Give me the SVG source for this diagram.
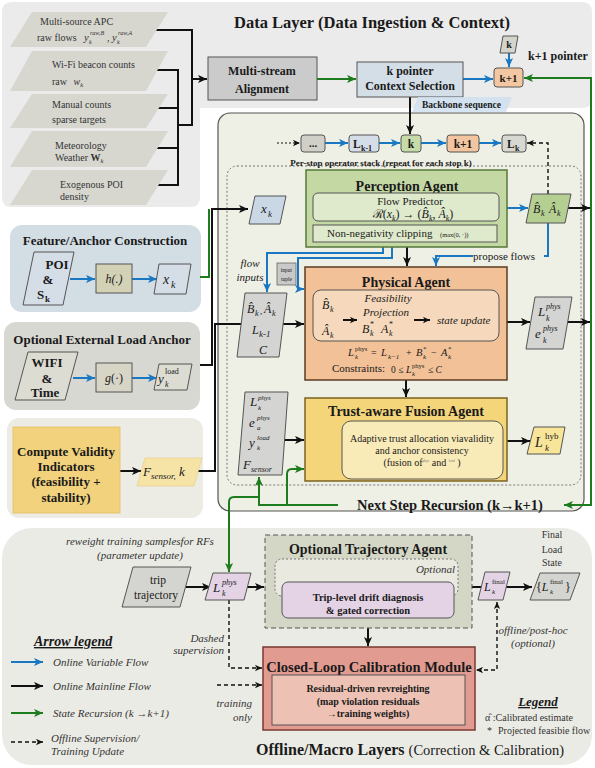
<svg xmlns="http://www.w3.org/2000/svg" width="595" height="768" viewBox="0 0 595 768">
<defs>
<style>
text{font-family:"Liberation Serif","Times New Roman",serif;fill:#1a1a1a}
.b{font-weight:bold}
.i{font-style:italic}
.c{text-anchor:middle}
.e{text-anchor:end}
.u{text-decoration:underline}
.g3{fill:#333}
.k{fill:none;stroke:#111;stroke-width:2}
.bl{fill:none;stroke:#1a78c2;stroke-width:2}
.gr{fill:none;stroke:#1e7b1e;stroke-width:2}
.ds{fill:none;stroke:#111;stroke-width:1.4;stroke-dasharray:4 3}
.dt{fill:none;stroke:#111;stroke-width:1;stroke-dasharray:2 2}
.nd{stroke:#555;stroke-width:1}
.src{fill:#d7d7d0}
</style>
<marker id="mk" viewBox="0 0 10 10" refX="10" refY="5" markerWidth="9" markerHeight="9" markerUnits="userSpaceOnUse" orient="auto-start-reverse"><path d="M0,0.5 L10,5 L0,9.5 L2.5,5 Z" fill="#111"/></marker>
<marker id="mb" viewBox="0 0 10 10" refX="10" refY="5" markerWidth="9" markerHeight="9" markerUnits="userSpaceOnUse" orient="auto-start-reverse"><path d="M0,0.5 L10,5 L0,9.5 L2.5,5 Z" fill="#1a78c2"/></marker>
<marker id="mg" viewBox="0 0 10 10" refX="10" refY="5" markerWidth="9" markerHeight="9" markerUnits="userSpaceOnUse" orient="auto-start-reverse"><path d="M0,0.5 L10,5 L0,9.5 L2.5,5 Z" fill="#1e7b1e"/></marker>
<marker id="md" viewBox="0 0 10 10" refX="10" refY="5" markerWidth="7" markerHeight="7" markerUnits="userSpaceOnUse" orient="auto-start-reverse"><path d="M0,0.5 L10,5 L0,9.5 L2.5,5 Z" fill="#111"/></marker>
</defs>

<!-- Panels -->
<g id="panel-data">
<path d="M12,2 H582 Q592,2 592,12 V98 Q592,108 582,108 H200 V197 Q200,207 190,207 H12 Q2,207 2,197 V12 Q2,2 12,2 Z" fill="#ebebeb"/>
<text x="372" y="28" font-size="16.5" class="b c">Data Layer (Data Ingestion &amp; Context)</text>
</g>
<g id="panel-online">
<rect x="218" y="113" width="366" height="398" rx="12" fill="#eeefe5" stroke="#555" stroke-width="1.2"/>
<rect x="227" y="166" width="354" height="319" rx="10" fill="none" stroke="#777" stroke-width="1" stroke-dasharray="2 2"/>
<text x="381" y="166" font-size="9" class="b c">Per-stop operator stack (repeat for each stop k)</text>
</g>
<g id="panel-feature">
<rect x="10" y="225" width="191" height="87" rx="12" fill="#d3dde4"/>
<text x="105" y="245" font-size="13" class="b c">Feature/Anchor Construction</text>
</g>
<g id="panel-load">
<rect x="4" y="322" width="196" height="88" rx="12" fill="#d8d8d3"/>
<text x="102" y="344" font-size="13" class="b c">Optional External Load Anchor</text>
</g>
<g id="panel-validity">
<rect x="7" y="418" width="196" height="100" rx="12" fill="#ececE4"/>
</g>
<g id="panel-offline">
<rect x="2" y="528" width="590" height="237" rx="30" fill="#ebebe5"/>
<text x="256" y="755" font-size="16" class="b">Offline/Macro Layers <tspan font-weight="normal" font-size="14.5">(Correction &amp; Calibration)</tspan></text>
</g>

<!-- Connectors -->
<g id="connectors">
<path class="k" d="M150,30 H192 V125 H178"/>
<path class="k" d="M150,70 H178 V185 H150"/>
<path class="k" d="M150,108 H178"/>
<path class="k" d="M150,148 H178"/>
<path class="k" d="M192,79 H207" marker-end="url(#mk)"/>
<path class="gr" d="M317,79 H356" marker-end="url(#mg)"/>
<path class="bl" d="M463,79 H493" marker-end="url(#mb)"/>
<path class="bl" d="M509,53 V67" marker-end="url(#mb)"/>
<path class="gr" d="M564,505 H591 V78 H524" marker-start="url(#mg)" marker-end="url(#mg)"/>
<path class="k" d="M410,97 V134" marker-end="url(#mk)"/>
<path class="dt" d="M277,143 H300" marker-end="url(#md)"/>
<path class="bl" d="M325,143 H348" marker-end="url(#mb)"/>
<path class="bl" d="M379,143 H400" marker-end="url(#mb)"/>
<path class="bl" d="M421,143 H446" marker-end="url(#mb)"/>
<path class="bl" d="M479,143 H501" marker-end="url(#mb)"/>
<path class="ds" d="M548,194 V143 H527" marker-end="url(#md)"/>
<path class="gr" d="M200,277 H209 V209"/>
<path class="k" d="M200,365 H212 V209 H248" marker-end="url(#mk)"/>
<path class="k" d="M197,471 H215 V324 H304" marker-end="url(#mk)"/>
<path class="k" d="M407,247 V266" marker-end="url(#mk)"/>
<path class="bl" d="M383,247 V253 H267 V292" marker-end="url(#mb)"/>
<path class="bl" d="M392,247 V258 H298 V289 H304" marker-end="url(#mb)"/>
<path class="bl" d="M548,223 V256 H544"/>
<path class="bl" d="M473,256 H436 V266" marker-end="url(#mb)"/>
<path class="bl" d="M507,208 H528" marker-end="url(#mb)"/>
<path class="k" d="M566,208 H590" marker-end="url(#mk)"/>
<path class="k" d="M507,322 H530" marker-end="url(#mk)"/>
<path class="k" d="M566,322 H590" marker-end="url(#mk)"/>
<path class="k" d="M406,380 V397" marker-end="url(#mk)"/>
<path class="k" d="M283,440 H304" marker-end="url(#mk)"/>
<path class="k" d="M503,441 H530" marker-end="url(#mk)"/>
<path class="gr" d="M338,505 H259 V477" marker-end="url(#mg)"/>
<path class="gr" d="M287,505 V474 Q287,469 292,469 H304" marker-end="url(#mg)"/>
<path class="gr" d="M259,497 H234 Q229,497 229,502 V572" marker-end="url(#mg)"/>
<path class="bl" d="M70,279 H95" marker-end="url(#mb)"/>
<path class="bl" d="M132,279 H157" marker-end="url(#mb)"/>
<path class="bl" d="M73,378 H95" marker-end="url(#mb)"/>
<path class="bl" d="M132,378 H157" marker-end="url(#mb)"/>
<path class="k" d="M120,471 H141" marker-end="url(#mk)"/>
<path class="k" d="M186,587 H211" marker-end="url(#mk)"/>
<path class="k" d="M247,587 H264" marker-end="url(#mk)"/>
<path class="ds" d="M229,600 V668 H262" marker-end="url(#md)"/>
<path class="ds" d="M217,685 H262" marker-end="url(#md)"/>
<path class="k" d="M368,628 V646" marker-end="url(#mk)"/>
<path class="k" d="M472,587 H482"/>
<path class="k" d="M506,587 H532" marker-end="url(#mk)"/>
<path class="ds" d="M497,602 V670 H476" marker-start="url(#md)" marker-end="url(#md)"/>
</g>

<!-- Data sources -->
<g id="src-apc">
<polygon class="src" points="32,12 168,12 146,47 10,47"/>
<text x="40" y="25" font-size="10" class="g3">Multi-source APC</text>
<text x="37" y="41" font-size="10" class="g3">raw flows</text>
<text x="84" y="41" font-size="10.5" class="i g3">y</text>
<text x="90" y="34.5" font-size="6" class="i g3">raw,B</text>
<text x="89" y="44" font-size="6" class="i g3">k</text>
<text x="107" y="41" font-size="10" class="g3">,</text>
<text x="112" y="41" font-size="10.5" class="i g3">y</text>
<text x="118" y="34.5" font-size="6" class="i g3">raw,A</text>
<text x="117" y="44" font-size="6" class="i g3">k</text>
</g>
<g id="src-wifi">
<polygon class="src" points="32,51 168,51 146,91 10,91"/>
<text x="52" y="68" font-size="10" class="g3">Wi-Fi beacon counts</text>
<text x="52" y="85" font-size="10" class="g3">raw <tspan class="i" dx="4">w</tspan><tspan class="i" font-size="6.5" dy="2">k</tspan></text>
</g>
<g id="src-manual">
<polygon class="src" points="32,94 168,94 146,128 10,128"/>
<text x="52" y="108" font-size="10" class="g3">Manual counts</text>
<text x="52" y="123" font-size="10" class="g3">sparse targets</text>
</g>
<g id="src-met">
<polygon class="src" points="32,131 168,131 146,167 10,167"/>
<text x="55" y="149" font-size="10" class="g3">Meteorology</text>
<text x="55" y="161" font-size="10" class="g3">Weather <tspan class="b">W</tspan><tspan class="i" font-size="6.5" dy="2">k</tspan></text>
</g>
<g id="src-poi">
<polygon class="src" points="32,170 168,170 146,205 10,205"/>
<text x="60" y="188" font-size="10" class="g3">Exogenous POI</text>
<text x="60" y="200" font-size="10" class="g3">density</text>
</g>

<g id="align">
<rect x="208" y="57" width="109" height="43" fill="#cbcbcb" class="nd"/>
<text x="262" y="75" font-size="12" class="b c">Multi-stream</text>
<text x="262" y="93" font-size="12" class="b c">Alignment</text>
</g>
<g id="kpointer">
<rect x="357" y="62" width="106" height="35" fill="#d4dee6" class="nd"/>
<text x="410" y="75" font-size="12" class="b c">k pointer</text>
<text x="410" y="90" font-size="12" class="b c">Context Selection</text>
</g>
<g id="kplus1-ptr">
<rect x="494" y="68" width="29" height="19" rx="3" fill="#f2c7a2" class="nd"/>
<text x="508.5" y="81.5" font-size="11" class="b c">k+1</text>
</g>
<g id="k-in">
<polygon points="503,36 518,36 515,53 500,53" fill="#d4d4cc" class="nd"/>
<text x="509" y="48" font-size="10" class="b c">k</text>
</g>
<text x="528" y="60" font-size="12" class="b">k+1 pointer</text>
<g id="backbone-label">
<polygon points="418,97 512,97 506,112 412,112" fill="#cfe1ee" opacity="0.85"/>
<text x="422" y="108" font-size="9.5" class="b" fill="#333">Backbone sequence</text>
</g>

<!-- Sequence -->
<g id="seq-dots"><rect x="301" y="135" width="24" height="17" rx="3" fill="#d0d0c8" class="nd"/><text x="313" y="147" font-size="11" class="b c">...</text></g>
<g id="seq-lk1"><rect x="349" y="135" width="30" height="17" rx="3" fill="#d5dde8" class="nd"/><text x="353" y="148" font-size="11.5" class="b">L</text><text x="361" y="151" font-size="8" class="b">k-1</text></g>
<g id="seq-k"><rect x="401" y="135" width="20" height="17" rx="3" fill="#c6dba8" class="nd"/><text x="411" y="148" font-size="11.5" class="b c">k</text></g>
<g id="seq-k1"><rect x="447" y="135" width="32" height="17" rx="3" fill="#f2c4a0" class="nd"/><text x="463" y="148" font-size="11.5" class="b c">k+1</text></g>
<g id="seq-lk"><rect x="502" y="135" width="24" height="17" rx="3" fill="#d8d8d2" class="nd"/><text x="507" y="148" font-size="11.5" class="b">L</text><text x="515" y="151" font-size="8" class="b">k</text></g>

<!-- Perception -->
<g id="perception">
<rect x="306" y="170" width="201" height="77" fill="#c4d8a4" stroke="#567a3a" stroke-width="1.5"/>
<text x="407" y="191" font-size="14" class="b c">Perception Agent</text>
<rect x="313" y="193" width="186" height="28" rx="5" fill="#dfe9cc" class="nd"/>
<text x="410" y="205" font-size="11" class="c">Flow Predictor</text>
<text x="413" y="218" font-size="12" class="c">ℛ(<tspan class="i">x</tspan><tspan class="i" font-size="8" dy="3">k</tspan><tspan dy="-3">) → (</tspan><tspan class="i">B&#770;</tspan><tspan class="i" font-size="8" dy="3">k</tspan><tspan dy="-3">, </tspan><tspan class="i">A&#770;</tspan><tspan class="i" font-size="8" dy="3">k</tspan><tspan dy="-3">)</tspan></text>
<rect x="313" y="225" width="184" height="17" fill="#dfe9cc" class="nd"/>
<text x="327" y="237" font-size="11">Non-negativity clipping</text>
<text x="440" y="237" font-size="6.5">(max(0, ·))</text>
</g>
<g id="xk">
<polygon points="255,196 286,196 280,224 249,224" fill="#cad7e5" class="nd"/>
<text x="261" y="213" font-size="13" class="i">x</text><text x="268" y="217" font-size="9" class="i">k</text>
</g>
<g id="bhat-ahat">
<polygon points="532,194 571,194 565,223 526,223" fill="#b5cf92" class="nd"/>
<text x="533" y="213" font-size="12" class="i">B&#770;</text><text x="541" y="216" font-size="8" class="i">k</text>
<text x="549" y="213" font-size="12" class="i">A&#770;</text><text x="557" y="216" font-size="8" class="i">k</text>
</g>
<text x="473" y="260" font-size="11">propose flows</text>
<text x="250" y="267" font-size="11" class="i c">flow</text>
<text x="250" y="281" font-size="11" class="i c">inputs</text>
<g id="input-tuple">
<rect x="277" y="263" width="19" height="22" fill="#c9c9c9" stroke="#666" stroke-width="0.8"/>
<text x="286.5" y="272" font-size="5.5" class="c">input</text>
<text x="286.5" y="281" font-size="5.5" class="c">tuple</text>
</g>

<!-- Physical -->
<g id="phys-in">
<polygon points="245,293 287,293 279,357 237,357" fill="#d4d4d2" class="nd"/>
<text x="247" y="313" font-size="12" class="i">B&#770;</text><text x="255" y="316" font-size="8" class="i">k</text>
<text x="260" y="314" font-size="9">,</text>
<text x="264" y="313" font-size="12" class="i">A&#770;</text><text x="272" y="316" font-size="8" class="i">k</text>
<text x="252" y="334" font-size="12" class="i">L</text><text x="259" y="337" font-size="9" class="i">k-1</text>
<text x="259" y="354" font-size="12" class="i">C</text>
</g>
<g id="physical">
<rect x="305" y="267" width="202" height="113" fill="#f2c197" stroke="#5a3c22" stroke-width="1.5"/>
<text x="406" y="287" font-size="14" class="b c">Physical Agent</text>
<rect x="313" y="290" width="186" height="51" rx="8" fill="#f6d9bc" class="nd"/>
<text x="322" y="309" font-size="12" class="i">B&#770;</text><text x="330" y="312" font-size="8" class="i">k</text>
<text x="322" y="335" font-size="12" class="i">A&#770;</text><text x="330" y="338" font-size="8" class="i">k</text>
<path class="k" d="M343,320 H357" marker-end="url(#md)"/>
<text x="388" y="302" font-size="11" class="i c">Feasibility</text>
<text x="386" y="316" font-size="11" class="i c">Projection</text>
<text x="362" y="333" font-size="12" class="i">B</text><text x="370" y="327" font-size="8">*</text><text x="370" y="336" font-size="8" class="i">k</text>
<text x="381" y="333" font-size="12" class="i">A</text><text x="389" y="327" font-size="8">*</text><text x="389" y="336" font-size="8" class="i">k</text>
<path class="k" d="M414,320 H430" marker-end="url(#md)"/>
<text x="437" y="324" font-size="11" class="i">state update</text>
<text x="348" y="356" font-size="10.5" class="i">L</text><text x="355" y="351" font-size="6.5">phys</text><text x="355" y="359" font-size="6.5" class="i">k</text>
<text x="371" y="356" font-size="10">=</text>
<text x="381" y="356" font-size="10.5" class="i">L</text><text x="388" y="359" font-size="7" class="i">k−1</text>
<text x="406" y="356" font-size="10">+</text>
<text x="416" y="356" font-size="10.5" class="i">B</text><text x="423" y="351" font-size="7">*</text><text x="423" y="359" font-size="7" class="i">k</text>
<text x="431" y="356" font-size="10">−</text>
<text x="441" y="356" font-size="10.5" class="i">A</text><text x="448" y="351" font-size="7">*</text><text x="448" y="359" font-size="7" class="i">k</text>
<text x="332" y="372" font-size="11">Constraints:</text>
<text x="391" y="373" font-size="9.5">0 ≤</text>
<text x="406" y="373" font-size="10" class="i">L</text><text x="412" y="368" font-size="6.5">phys</text><text x="412" y="376" font-size="6.5" class="i">k</text>
<text x="428" y="373" font-size="9.5">≤ <tspan class="i">C</tspan></text>
</g>
<g id="phys-out">
<polygon points="535,297 572,297 563,349 526,349" fill="#d4d4d2" class="nd"/>
<text x="538" y="316" font-size="13" class="i">L</text><text x="546" y="309" font-size="8" class="i">phys</text><text x="546" y="321" font-size="8" class="i">k</text>
<text x="535" y="338" font-size="13" class="i">e</text><text x="543" y="331" font-size="8" class="i">phys</text><text x="543" y="343" font-size="8" class="i">k</text>
</g>

<!-- Trust -->
<g id="trust-in">
<polygon points="245,392 288,392 282,475 238,475" fill="#d4d4d2" class="nd"/>
<text x="250" y="406" font-size="13" class="i">L</text><text x="258" y="400" font-size="7" class="i">phys</text><text x="258" y="410" font-size="7" class="i">k</text>
<text x="249" y="427" font-size="13" class="i">e</text><text x="257" y="420" font-size="7" class="i">phys</text><text x="257" y="430" font-size="7" class="i">a</text>
<text x="249" y="447" font-size="13" class="i">y</text><text x="257" y="440" font-size="7" class="i">load</text><text x="257" y="450" font-size="7" class="i">k</text>
<text x="243" y="469" font-size="13" class="i">F</text><text x="251" y="472" font-size="8" class="i">sensor</text>
</g>
<g id="trust">
<rect x="305" y="398" width="202" height="83" fill="#f4d57a" stroke="#7a6520" stroke-width="1.5"/>
<text x="406" y="416" font-size="14" class="b c">Trust-aware Fusion Agent</text>
<rect x="342" y="421" width="161" height="58" rx="9" fill="#f9ebb8" class="nd"/>
<text x="422" y="442" font-size="10" class="c">Adaptive trust allocation viavalidity</text>
<text x="422" y="454" font-size="10" class="c">and anchor consistency</text>
<text x="422" y="466" font-size="10" class="c">(fusion of<tspan font-size="3.5" dy="-4" fill="#777">phys</tspan><tspan dy="4"> and </tspan><tspan font-size="3.5" dy="-4" fill="#777">load</tspan><tspan dy="4"> )</tspan></text>
</g>
<g id="lhyb">
<polygon points="534,427 565,427 560,454 527,454" fill="#f8e59a" class="nd"/>
<text x="535" y="447" font-size="14" class="i">L</text><text x="545" y="439" font-size="9">hyb</text><text x="545" y="451" font-size="9" class="i">k</text>
</g>
<text x="357" y="510" font-size="14.5" class="b">Next Step Recursion (k→k+1)</text>

<!-- Left panels nodes -->
<g id="poi-sk">
<polygon points="34,252 74,252 63,305 23,305" fill="#d5dde6" class="nd"/>
<text x="57" y="269" font-size="13" class="b c">POI</text>
<text x="48" y="284" font-size="13" class="b c">&amp;</text>
<text x="37" y="299" font-size="13" class="b">S</text><text x="45" y="302" font-size="9" class="b">k</text>
</g>
<g id="h-func">
<rect x="96" y="264" width="36" height="29" fill="#d3d2b6" class="nd"/>
<text x="114" y="283" font-size="12" class="i c">h(.)</text>
</g>
<g id="xk-feat">
<polygon points="159,264 191,264 186,294 154,294" fill="#d5dde6" class="nd"/>
<text x="163" y="284" font-size="14" class="i">x</text><text x="171" y="288" font-size="10" class="i">k</text>
</g>
<g id="wifi-time">
<polygon points="28,352 78,352 65,400 15,400" fill="#dcdcd2" class="nd"/>
<text x="47" y="367" font-size="13" class="b c">WIFI</text>
<text x="47" y="383" font-size="13" class="b c">&amp;</text>
<text x="45" y="397" font-size="13" class="b c">Time</text>
</g>
<g id="g-func">
<rect x="96" y="363" width="36" height="29" fill="#d6d5c6" class="nd"/>
<text x="114" y="382" font-size="12" class="c"><tspan class="i">g</tspan>(·)</text>
</g>
<g id="yload">
<polygon points="159,364 192,364 187,390 154,390" fill="#dcdcd2" class="nd"/>
<text x="158" y="383" font-size="13" class="i">y</text><text x="165" y="374" font-size="8">load</text><text x="165" y="387" font-size="8" class="i">k</text>
</g>
<g id="validity">
<rect x="13" y="427" width="107" height="86" fill="#f2d27c" stroke="#e3c060" stroke-width="0.8"/>
<text x="66" y="456" font-size="13" class="b c">Compute Validity</text>
<text x="66" y="471" font-size="13" class="b c">Indicators</text>
<text x="66" y="486" font-size="13" class="b c">(feasibility +</text>
<text x="66" y="502" font-size="13" class="b c">stability)</text>
</g>
<g id="fsensor">
<polygon points="145,458 202,458 194,486 137,486" fill="#f6e3a6" stroke="#e6cf80" stroke-width="0.6"/>
<text x="143" y="476" font-size="13" class="i">F</text><text x="151" y="479" font-size="9" class="i">sensor,</text><text x="179" y="476" font-size="13" class="i">k</text>
</g>

<!-- Offline -->
<text x="140" y="545" font-size="11" class="i c g3">reweight training samplesfor RFs</text>
<text x="140" y="559" font-size="11" class="i c g3">(parameter update)</text>
<g id="trip">
<polygon points="133,567 191,567 180,607 122,607" fill="#d4d4d0" class="nd"/>
<text x="158" y="584" font-size="11.5" class="c">trip</text>
<text x="156" y="599" font-size="11.5" class="c">trajectory</text>
</g>
<g id="lphys-off">
<polygon points="213,573 251,573 244,600 205,600" fill="#e3d3e5" class="nd"/>
<text x="213" y="592" font-size="13" class="i">L</text><text x="222" y="585" font-size="8" class="i">phys</text><text x="222" y="596" font-size="8" class="i">k</text>
</g>
<g id="traj-agent">
<rect x="265" y="535" width="207" height="93" fill="#d4d7c6" stroke="#555" stroke-width="1" stroke-dasharray="5 3"/>
<text x="368" y="554" font-size="14" class="b c">Optional Trajectory Agent</text>
<rect x="275" y="559" width="183" height="37" rx="7" fill="#e9e9e0" stroke="#777" stroke-width="1" stroke-dasharray="2 2"/>
<text x="455" y="573" font-size="11" class="i e g3">Optional</text>
<rect x="282" y="582" width="172" height="36" rx="6" fill="#e3d3e5" class="nd"/>
<text x="368" y="601" font-size="10.5" class="b c">Trip-level drift diagnosis</text>
<text x="368" y="614" font-size="10.5" class="b c">&amp; gated correction</text>
</g>
<g id="calibration">
<rect x="263" y="647" width="212" height="83" fill="#e29b91" stroke="#7a3a30" stroke-width="1.5"/>
<text x="369" y="672" font-size="14.5" class="b c">Closed-Loop Calibration Module</text>
<rect x="272" y="675" width="193" height="50" fill="#edc2b4" class="nd"/>
<text x="368" y="692" font-size="10" class="b c">Residual-driven revreighting</text>
<text x="368" y="705" font-size="10" class="b c">(map violation residuals</text>
<text x="368" y="717" font-size="10" class="b c">→training weights)</text>
</g>
<g id="lfinal">
<polygon points="485,572 510,572 503,600 478,600" fill="#e3d3e5" class="nd"/>
<text x="484" y="591" font-size="12" class="i">L</text><text x="492" y="584" font-size="7">final</text><text x="492" y="594" font-size="7" class="i">k</text>
</g>
<g id="lfinal-set">
<polygon points="540,573 580,573 570,600 530,600" fill="#d4d4d0" class="nd"/>
<text x="536" y="591" font-size="12">{<tspan class="i">L</tspan></text><text x="550" y="584" font-size="7">final</text><text x="550" y="594" font-size="7" class="i">k</text><text x="565" y="591" font-size="12">}</text>
</g>
<text x="552" y="538" font-size="10" class="c g3">Final</text>
<text x="552" y="553" font-size="10" class="c g3">Load</text>
<text x="552" y="566" font-size="10" class="c g3">State</text>
<text x="533" y="634" font-size="11" class="i c g3">offline/post-hoc</text>
<text x="533" y="647" font-size="11" class="i c g3">(optional)</text>
<text x="224" y="642" font-size="11" class="i e g3">Dashed</text>
<text x="224" y="654" font-size="11" class="i e g3">supervision</text>
<text x="252" y="707" font-size="11" class="i e g3">training</text>
<text x="252" y="721" font-size="11" class="i e g3">only</text>

<g id="arrow-legend">
<text x="34" y="646" font-size="14" class="b i u">Arrow legend</text>
<path class="bl" d="M11,662 H43" marker-end="url(#mb)"/>
<text x="53" y="666" font-size="11" class="i g3">Online Variable Flow</text>
<path class="k" d="M11,686 H43" marker-end="url(#mk)"/>
<text x="53" y="690" font-size="11" class="i g3">Online Mainline Flow</text>
<path class="gr" d="M11,713 H43" marker-end="url(#mg)"/>
<text x="53" y="717" font-size="11" class="i g3">State Recursion (k →k+1)</text>
<path class="ds" d="M11,742 H43" marker-end="url(#md)"/>
<text x="51" y="742" font-size="11" class="i g3">Offline Supervision/</text>
<text x="51" y="755" font-size="11" class="i g3">Training Update</text>
</g>
<g id="legend">
<text x="538" y="706" font-size="13" class="b i u c">Legend</text>
<text x="485" y="721" font-size="10" class="g3">α&#770; :Calibrated estimate</text>
<text x="487" y="734" font-size="10" class="g3">*<tspan dx="6">Projected feasibie flow</tspan></text>
</g>
</svg>
